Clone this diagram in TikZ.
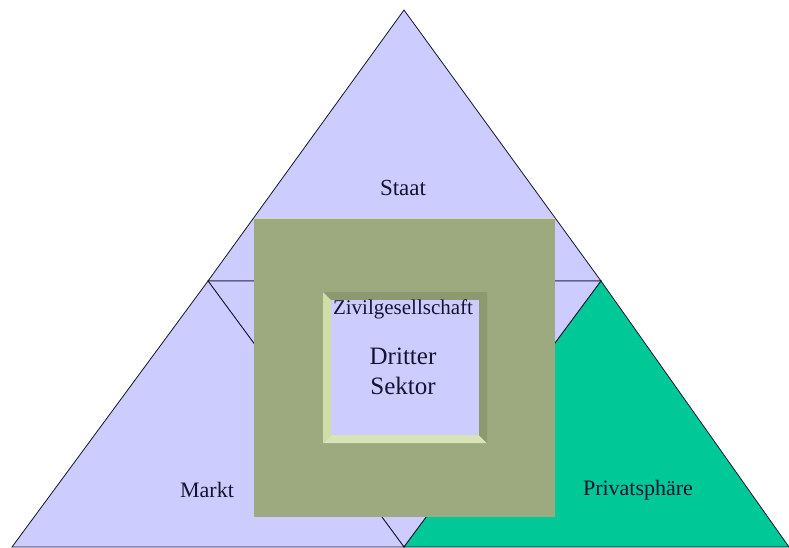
\documentclass[tikz,border=0pt]{standalone}
\usepackage{fontspec}
\setmainfont{Liberation Serif}
\usetikzlibrary{positioning}

\definecolor{lavender}{RGB}{204,204,255}
\definecolor{mint}{RGB}{0,200,150}
\definecolor{olive}{RGB}{157,170,128}
\definecolor{bevellight}{RGB}{206,222,166}
\definecolor{beveldark}{RGB}{140,152,110}
\definecolor{edge}{RGB}{20,20,50}

\begin{document}
\begin{tikzpicture}[
  x=1pt, y=-1pt,
  region/.style={draw=edge, line width=0.8pt, line join=miter},
  frame/.style={fill=olive},
  label/.style={text=edge, inner sep=0pt, font=\fontsize{22}{24}\selectfont},
  small/.style={label, font=\fontsize{21}{23}\selectfont},
  big/.style={label, font=\fontsize{25}{30}\selectfont, align=center},
]
\useasboundingbox (0,0) rectangle (789,547);

% corners of the triangles
\coordinate (apex) at (404,10);
\coordinate (wl) at (208,281);
\coordinate (wr) at (601,281);
\coordinate (bl) at (12,547);
\coordinate (bm) at (404,547);
\coordinate (br) at (789,547);

% Staat, middle, Markt, Privatsphaere
\filldraw[region, fill=lavender] (apex) -- (wl) -- (wr) -- cycle;
\filldraw[region, fill=lavender] (wl) -- (wr) -- (bm) -- cycle;
\filldraw[region, fill=lavender] (wl) -- (bl) -- (bm) -- cycle;
\filldraw[region, fill=mint] (wr) -- (bm) -- (br) -- cycle;

% outer frame
\fill[frame] (254,218) rectangle (555,517);
\draw[bevellight, line width=1pt] (254,218.5) -- (555,218.5);

% inner bevel
\fill[beveldark] (323,292) -- (487,292) -- (479,300) -- (331,300) -- cycle;
\fill[bevellight] (323,292) -- (331,300) -- (331,435) -- (323,443) -- cycle;
\fill[bevellight!80!white] (323,443) -- (331,435) -- (479,435) -- (487,443) -- cycle;
\fill[beveldark!95!olive] (487,292) -- (487,443) -- (479,435) -- (479,300) -- cycle;
\fill[lavender] (331,300) rectangle (479,435);

% texts
\node[label, font=\fontsize{23}{25}\selectfont] (staat) at (403,188) {Staat};
\node[small] (zivil) at (403,309) {Zivilgesellschaft};
\node[big] (dritter) at (403,371) {Dritter\\Sektor};
\node[label] (markt) at (207,490) {Markt};
\node[label] (privat) at (638,490) {Privatsphäre};

\end{tikzpicture}
\end{document}
